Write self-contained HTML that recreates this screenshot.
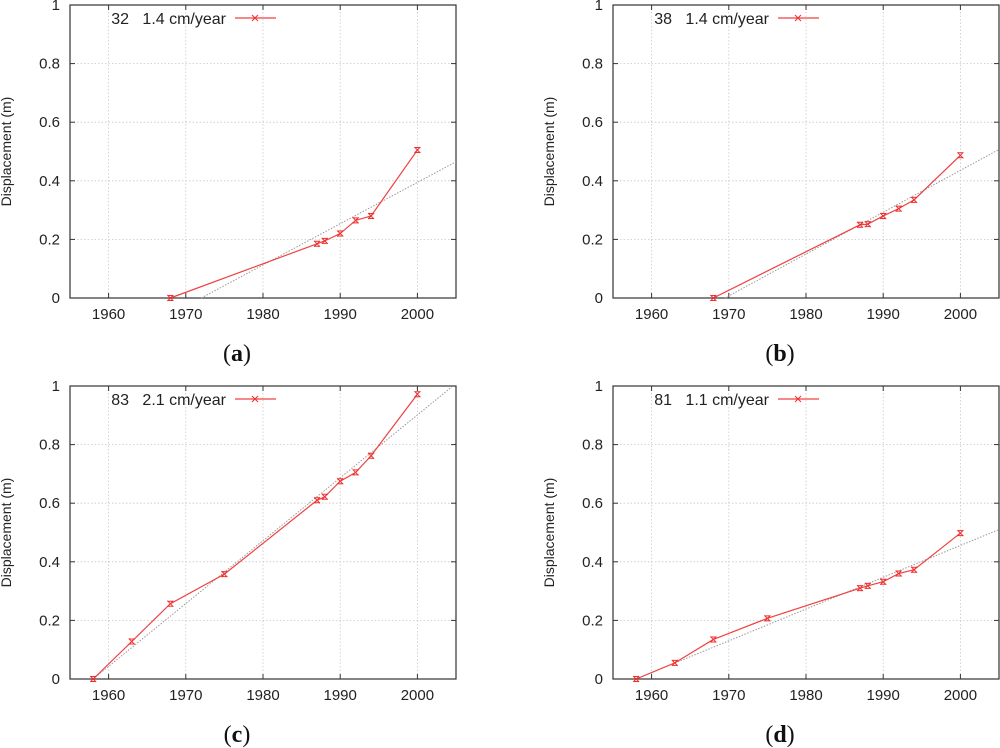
<!DOCTYPE html>
<html><head><meta charset="utf-8">
<style>
html,body{margin:0;padding:0;background:#fff;}
svg{display:block;font-family:"Liberation Sans",sans-serif;}
</style></head>
<body>
<svg id="chart" width="1000" height="748" viewBox="0 0 1000 748"></svg>
<script>
const years = [1955, 2005];
const xTicks = [1960, 1970, 1980, 1990, 2000];
const yTicks = [0, 0.2, 0.4, 0.6, 0.8, 1];
const yTickLabels = ["0", "0.2", "0.4", "0.6", "0.8", "1"];
const panelIds = ["a", "b", "c", "d"];
const legendLabels = ["32   1.4 cm/year", "38   1.4 cm/year", "83   2.1 cm/year", "81   1.1 cm/year"];
const yearsA = [1968, 1987, 1988, 1990, 1992, 1994, 2000];
const valsA = [0, 0.185, 0.195, 0.22, 0.265, 0.28, 0.505];
const yearsB = [1968, 1987, 1988, 1990, 1992, 1994, 2000];
const valsB = [0, 0.25, 0.252, 0.28, 0.305, 0.335, 0.487];
const yearsC = [1958, 1963, 1968, 1975, 1987, 1988, 1990, 1992, 1994, 2000];
const valsC = [0, 0.128, 0.257, 0.358, 0.61, 0.622, 0.675, 0.705, 0.762, 0.972];
const yearsD = [1958, 1963, 1968, 1975, 1987, 1988, 1990, 1992, 1994, 2000];
const valsD = [0, 0.055, 0.135, 0.207, 0.31, 0.318, 0.332, 0.36, 0.373, 0.498];
const fitA = [[1972, 0], [2005, 0.465]];
const fitB = [[1969.5, 0], [2005, 0.507]];
const fitC = [[1958, 0], [2004.6, 1.0]];
const fitD = [[1958, 0], [2005, 0.51]];

const NS = "http://www.w3.org/2000/svg";
const svg = document.getElementById("chart");
function mk(tag, attrs, parent) {
  const e = document.createElementNS(NS, tag);
  for (const k in attrs) e.setAttribute(k, attrs[k]);
  parent.appendChild(e);
  return e;
}
const panels = [
  {x0: 70, y0: 5, ys: yearsA, vs: valsA, fit: fitA},
  {x0: 613, y0: 5, ys: yearsB, vs: valsB, fit: fitB},
  {x0: 70, y0: 386, ys: yearsC, vs: valsC, fit: fitC},
  {x0: 613, y0: 386, ys: yearsD, vs: valsD, fit: fitD}
];
const W = 386, H = 293;
panels.forEach((p, i) => {
  const g = mk("g", {}, svg);
  
  
  const sx = v => p.x0 + (v - years[0]) / (years[1] - years[0]) * W;
  const sy = v => p.y0 + H - v * H;
  xTicks.forEach(t => {
    const l = mk("line", {x1: sx(t), x2: sx(t), y1: p.y0, y2: p.y0 + H, stroke: "#c8c8c8", "stroke-width": 0.8, "stroke-dasharray": "1.5,2"}, g);
    
    
    mk("line", {x1: sx(t), x2: sx(t), y1: p.y0 + H, y2: p.y0 + H - 5, stroke: "#333"}, g);
    mk("line", {x1: sx(t), x2: sx(t), y1: p.y0, y2: p.y0 + 5, stroke: "#333"}, g);
    const tx = mk("text", {x: sx(t), y: p.y0 + H + 21, "text-anchor": "middle", "font-size": 15, fill: "#222"}, g);
    tx.textContent = t;
    
    
  });
  yTicks.forEach((t, j) => {
    if (t > 0 && t < 1) {
      const l = mk("line", {x1: p.x0, x2: p.x0 + W, y1: sy(t), y2: sy(t), stroke: "#c8c8c8", "stroke-width": 0.8, "stroke-dasharray": "1.5,2"}, g);
      
      
    }
    mk("line", {x1: p.x0, x2: p.x0 + 5, y1: sy(t), y2: sy(t), stroke: "#333"}, g);
    mk("line", {x1: p.x0 + W, x2: p.x0 + W - 5, y1: sy(t), y2: sy(t), stroke: "#333"}, g);
    const tx = mk("text", {x: p.x0 - 10, y: sy(t) + 5, "text-anchor": "end", "font-size": 15, fill: "#222"}, g);
    tx.textContent = yTickLabels[j];
    
    
  });
  const frame = mk("rect", {x: p.x0, y: p.y0, width: W, height: H, fill: "none", stroke: "#333", "stroke-width": 1.2}, g);
  
  
  const yt = mk("text", {x: 0, y: 0, transform: `translate(${p.x0 - 59},${p.y0 + H / 2}) rotate(-90)`, "text-anchor": "middle", "font-size": 14, fill: "#222"}, g);
  yt.textContent = "Displacement (m)";
  
  
  const fl = mk("line", {x1: sx(p.fit[0][0]), y1: sy(p.fit[0][1]), x2: sx(p.fit[1][0]), y2: sy(p.fit[1][1]), stroke: "#999", "stroke-width": 1, "stroke-dasharray": "1.5,1.5"}, g);
  
  
  const pts = p.ys.map((y, k) => sx(y) + "," + sy(p.vs[k])).join(" ");
  const pl = mk("polyline", {points: pts, fill: "none", stroke: "#f04040", "stroke-width": 1.2}, g);
  
  
  p.ys.forEach((y, k) => {
    const cx = sx(y), cy = sy(p.vs[k]);
    const m = mk("path", {d: `M${cx-3},${cy-3}L${cx+3},${cy+3}M${cx-3},${cy+3}L${cx+3},${cy-3}M${cx-3},${cy-2.5}H${cx+3}M${cx-3},${cy+2.5}H${cx+3}`, stroke: "#f03030", "stroke-width": 1}, g);
    
    
  });
  const lg = mk("g", {}, g);
  
  
  const lt = mk("text", {x: p.x0 + 156, y: p.y0 + 19, "text-anchor": "end", "font-size": 16, fill: "#222"}, lg);
  lt.textContent = legendLabels[i];
  lt.style.whiteSpace = "pre";
  mk("line", {x1: p.x0 + 165, x2: p.x0 + 206, y1: p.y0 + 13, y2: p.y0 + 13, stroke: "#f04040", "stroke-width": 1.2}, lg);
  const mx = p.x0 + 185, my = p.y0 + 13;
  mk("path", {d: `M${mx-3},${my-3}L${mx+3},${my+3}M${mx-3},${my+3}L${mx+3},${my-3}`, stroke: "#f03030"}, lg);
  const pt = mk("text", {x: p.x0 + 167, y: p.y0 + 356, "text-anchor": "middle", "font-size": 24, "font-family": "Liberation Serif, serif", fill: "#111"}, g);
  pt.innerHTML = '(<tspan font-weight="bold">' + panelIds[i] + '</tspan>)';
  
  
});
</script>
</body></html>
